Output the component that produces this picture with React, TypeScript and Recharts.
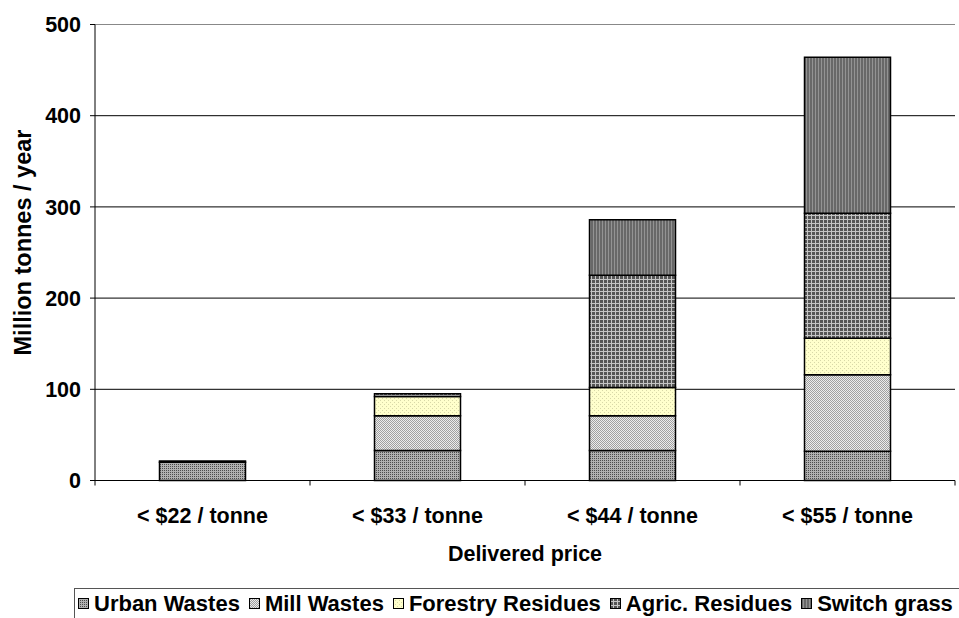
import React from 'react';
import {
  BarChart,
  Bar,
  XAxis,
  YAxis,
  CartesianGrid,
  Legend,
  ReferenceLine,
} from 'recharts';

const categories = ['< $22 / tonne', '< $33 / tonne', '< $44 / tonne', '< $55 / tonne'];
const urbanWastes = [20, 33, 33, 32];
const millWastes = [0, 38, 38, 84];
const forestryResidues = [0, 21, 31, 40];
const agricResidues = [1.5, 3, 123, 137];
const switchGrass = [0, 0, 61, 171];
const yTicks = [0, 100, 200, 300, 400, 500];

const seriesList = [
  { key: 'urban', name: 'Urban Wastes', values: urbanWastes, pattern: 'pat-urban' },
  { key: 'mill', name: 'Mill Wastes', values: millWastes, pattern: 'pat-mill' },
  { key: 'forestry', name: 'Forestry Residues', values: forestryResidues, pattern: 'pat-forestry' },
  { key: 'agric', name: 'Agric. Residues', values: agricResidues, pattern: 'pat-agric' },
  { key: 'switch', name: 'Switch grass', values: switchGrass, pattern: 'pat-switch' },
];

const data = categories.map((c, i) => {
  const row: Record<string, any> = { category: c };
  seriesList.forEach((s) => {
    row[s.key] = s.values[i];
  });
  return row;
});

const FONT = '"Liberation Sans", Arial, Helvetica, sans-serif';
const X_TICK_GAP = 27;

const Patterns = () => (
  <svg width={0} height={0} style={{ position: 'absolute' }}>
    <defs>
      <pattern id="pat-urban" patternUnits="userSpaceOnUse" width={2} height={2}>
        <rect x={0} y={0} width={2} height={2} fill="#b0b0b0" />
        <rect x={0} y={0} width={1} height={1} fill="#4c4c4c" />
      </pattern>
      <pattern id="pat-mill" patternUnits="userSpaceOnUse" width={2} height={2}>
        <rect x={0} y={0} width={2} height={2} fill="#ececec" />
        <rect x={0} y={0} width={1} height={1} fill="#a0a0a0" />
        <rect x={1} y={1} width={1} height={1} fill="#a0a0a0" />
      </pattern>
      <pattern id="pat-forestry" patternUnits="userSpaceOnUse" width={4} height={4}>
        <rect x={0} y={0} width={4} height={4} fill="#ffffcc" />
        <rect x={0} y={0} width={1} height={1} fill="#d8d8a8" />
        <rect x={2} y={2} width={1} height={1} fill="#d8d8a8" />
      </pattern>
      <pattern id="pat-agric" patternUnits="userSpaceOnUse" width={4} height={4}>
        <rect x={0} y={0} width={4} height={4} fill="#555555" />
        <rect x={0} y={3} width={4} height={1} fill="#c4c4c4" />
        <rect x={3} y={0} width={1} height={4} fill="#c4c4c4" />
      </pattern>
      <pattern id="pat-switch" patternUnits="userSpaceOnUse" width={3} height={3}>
        <rect x={0} y={0} width={3} height={3} fill="#686868" />
        <rect x={2} y={0} width={1} height={3} fill="#939393" />
      </pattern>
    </defs>
  </svg>
);

const LegendBox = () => (
  <div
    style={{
      width: 885,
      height: 30,
      boxSizing: 'border-box',
      borderTop: '1px solid #555',
      borderLeft: '1px solid #555',
      display: 'flex',
      alignItems: 'center',
      paddingLeft: 3,
      fontFamily: FONT,
      fontWeight: 'bold',
      fontSize: 22,
      color: '#000',
      whiteSpace: 'nowrap',
    }}
  >
    {seriesList.map((s) => (
      <span key={s.key} style={{ display: 'inline-flex', alignItems: 'center', marginRight: 9 }}>
        <svg width={11} height={11} style={{ display: 'block' }}>
          <rect x={0.5} y={0.5} width={10} height={10} fill={`url(#${s.pattern})`} stroke="#000" strokeWidth={1} />
        </svg>
        <span style={{ marginLeft: 5 }}>{s.name}</span>
      </span>
    ))}
  </div>
);

const YLabel = (props: any) => {
  const vb = props.viewBox || {};
  const cx = (vb.x ?? 0) + 23;
  const cy = (vb.y ?? 0) + (vb.height ?? 0) / 2 - 10;
  return (
    <text
      x={cx}
      y={cy}
      transform={`rotate(-90 ${cx} ${cy})`}
      textAnchor="middle"
      dominantBaseline="central"
      fontFamily={FONT}
      fontWeight="bold"
      fontSize={23.5}
      fill="#000"
    >
      Million tonnes / year
    </text>
  );
};

// Category tick: label at the band centre, tick marks at the band edges (Excel style)
const CategoryTick = (props: any) => {
  const { x, y, payload, index, visibleTicksCount } = props;
  const half = payload?.offset ?? 0;
  const axisY = y - X_TICK_GAP;
  const isLast = index === (visibleTicksCount ?? categories.length) - 1;
  return (
    <g>
      <line x1={x - half} x2={x - half} y1={axisY} y2={axisY + 5} stroke="#000" strokeWidth={1} />
      {isLast && <line x1={x + half} x2={x + half} y1={axisY} y2={axisY + 5} stroke="#000" strokeWidth={1} />}
      <text
        x={x}
        y={y}
        dy="0.71em"
        textAnchor="middle"
        fontFamily={FONT}
        fontWeight="bold"
        fontSize={21.5}
        fill="#000"
      >
        {payload?.value}
      </text>
    </g>
  );
};

const tickStyle = { fill: '#000', fontSize: 21.5, fontWeight: 'bold', fontFamily: FONT };

export default function App() {
  return (
    <div style={{ position: 'absolute', left: 0, top: 0, width: 959, height: 618, overflow: 'hidden', background: '#fff' }}>
      <Patterns />
      <BarChart
        width={959}
        height={618}
        data={data}
        margin={{ top: 24.5, right: 4, left: 0, bottom: 57.5 }}
        barCategoryGap="30%"
      >
        <CartesianGrid horizontal vertical={false} stroke="#000" strokeWidth={1} />
        <XAxis
          dataKey="category"
          tickLine={false}
          tickSize={0}
          tickMargin={X_TICK_GAP}
          axisLine={{ stroke: '#000' }}
          tick={<CategoryTick />}
          height={80}
          interval={0}
          label={{
            value: 'Delivered price',
            position: 'insideBottom',
            offset: 0,
            style: { fill: '#000', fontSize: 21.5, fontWeight: 'bold', fontFamily: FONT },
          }}
        />
        <YAxis
          domain={[0, 500]}
          ticks={yTicks}
          width={95}
          tick={tickStyle}
          tickSize={5}
          tickMargin={9}
          tickLine={{ stroke: '#000' }}
          axisLine={{ stroke: '#000' }}
          label={<YLabel />}
        />
        <YAxis
          yAxisId="right"
          orientation="right"
          domain={[0, 500]}
          width={0}
          tick={false}
          tickLine={false}
          axisLine={{ stroke: '#888' }}
        />
        <ReferenceLine y={500} stroke="#888" strokeWidth={1} />
        <Legend
          verticalAlign="middle"
          align="center"
          layout="horizontal"
          wrapperStyle={{ left: 74, top: 588, width: 885, height: 30 }}
          content={() => <LegendBox />}
        />
        {seriesList.map((s) => (
          <Bar
            key={s.key}
            dataKey={s.key}
            name={s.name}
            stackId="a"
            fill={`url(#${s.pattern})`}
            stroke="#000"
            strokeWidth={1.5}
            isAnimationActive={false}
          />
        ))}
      </BarChart>
    </div>
  );
}
